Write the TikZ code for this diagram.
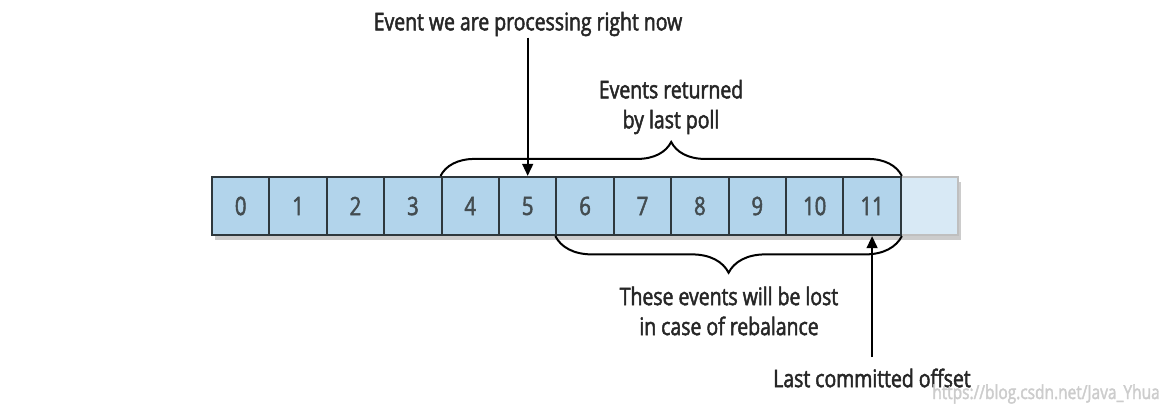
\documentclass[tikz,border=0pt]{standalone}
\usepackage{fontspec}
\setmainfont[FakeStretch=0.8,FakeBold=2]{Open Sans}
\usepackage{tikz}
\usetikzlibrary{arrows.meta,decorations.pathreplacing,shadows}
\definecolor{cellblue}{HTML}{B2D4EB}
\definecolor{paleblue}{HTML}{D8E9F5}
\definecolor{framegray}{HTML}{2E383D}

\begin{document}
\begin{tikzpicture}[x=0.75pt,y=-0.75pt,>=Stealth,
  cell/.style={draw=framegray,line width=1.6pt,fill=cellblue,minimum width=43.05pt,minimum height=43.5pt,inner sep=0pt,text=framegray!90,font=\fontsize{19}{21}\selectfont},
  note/.style={align=center,text=black!85,inner sep=1pt,font=\fontsize{18.2}{22.5}\selectfont},
  curly/.style={decorate,line width=1.5pt,decoration={brace,amplitude=#1}},
  pointer/.style={-{Triangle[length=9pt,width=8pt]},line width=1.6pt}]
\useasboundingbox (0,0) rectangle (1165,412);
\fill[white,drop shadow={opacity=0.4,shadow xshift=2pt,shadow yshift=-3.5pt}](212,177)rectangle(958,235);
\node[cell,fill=paleblue,draw=black!25] (c12) at ({240.7+57.4*12},206) {};
\foreach \i in {0,...,11}
  \node[cell] (c\i) at ({240.7+57.4*\i},206) {\i};
\node[note] (now) at (528,24) {Event we are processing right now};
\node[note] (poll) at (671,107) {Events returned\\by last poll};
\node[note] (lost) at (729,311) {These events will be lost\\in case of rebalance};
\node[note] (offset) at (872,378) {Last committed offset};
\node[text=black!20,font=\fontsize{14.5}{16}\selectfont] (mark) at (1046,394) {https://blog.csdn.net/Java\_Yhua};
\draw[curly=25.5pt](c4.north west)--(c11.north east);
\draw[curly=27.5pt](c11.south east)--(c6.south west);
\draw[pointer](c5.north|-now.south)--(c5.north);
\draw[pointer]([yshift=7.5pt]c11.south|-offset.north)--(c11.south);
\end{tikzpicture}
\end{document}
